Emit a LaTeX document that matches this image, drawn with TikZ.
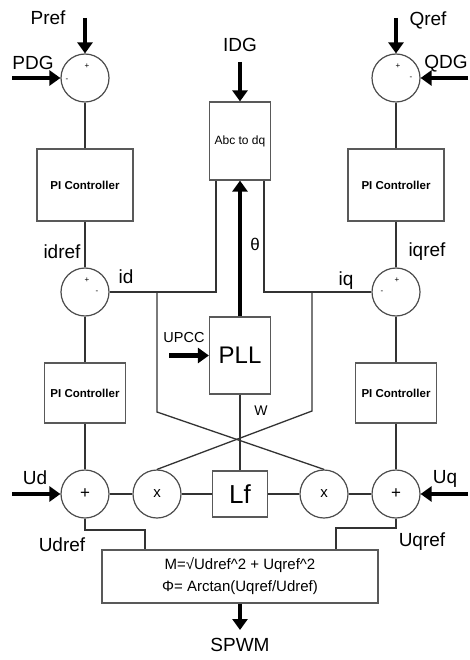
\documentclass[tikz,border=0pt]{standalone}
\usepackage{fontspec}
\setmainfont{Liberation Sans}
\usetikzlibrary{arrows.meta}
\begin{document}
\begin{tikzpicture}[x=1pt,y=-1pt,
 ln/.style={draw=black!80, line width=1.3pt},
 blk/.style={draw=black!65, line width=1.2pt, fill=white, inner sep=0pt},
 sumc/.style={circle, draw=black!70, line width=1.2pt, minimum size=48pt, inner sep=0pt, fill=white},
 big/.style={-{Triangle[length=11pt,width=15pt]}, line width=4.5pt, draw=black},
 lab/.style={font=\fontsize{19}{19}\selectfont, inner sep=0pt},
 sgn/.style={font=\fontsize{8}{8}\selectfont, inner sep=0pt},
 pic/.style={font=\bfseries\fontsize{11.5}{12}\selectfont}
]
\fill[white] (0,0) rectangle (470,660);
\useasboundingbox (0,0) rectangle (470,660);

% blocks
\node[sumc] (s1l) at (85,78) {};
\node[sumc] (s1r) at (396,78) {};
\node[blk, minimum width=96pt, minimum height=72pt, pic] (pi1l) at (85,185) {PI Controller};
\node[blk, minimum width=96pt, minimum height=72pt, pic] (pi1r) at (396,185) {PI Controller};
\node[sumc] (s2l) at (85,292) {};
\node[sumc] (s2r) at (396,292) {};
\node[blk, minimum width=81pt, minimum height=60pt, pic] (pi2l) at (85,393) {PI Controller};
\node[blk, minimum width=81pt, minimum height=60pt, pic] (pi2r) at (396,393) {PI Controller};
\node[sumc, font=\fontsize{17}{17}\selectfont] (s3l) at (85,494) {+};
\node[sumc, font=\fontsize{17}{17}\selectfont] (s3r) at (396,494) {+};
\node[sumc, font=\fontsize{15}{15}\selectfont] (xl) at (157,494) {x};
\node[sumc, font=\fontsize{15}{15}\selectfont] (xr) at (324,494) {x};
\node[blk, minimum width=55pt, minimum height=46pt, font=\fontsize{26}{26}\selectfont] (lf) at (240,494) {Lf};
\node[blk, minimum width=61pt, minimum height=78pt, font=\fontsize{12}{12}\selectfont] (abc) at (240,141) {Abc to dq};
\node[blk, minimum width=61pt, minimum height=77pt, font=\fontsize{24}{24}\selectfont] (pll) at (240,355.5) {PLL};
\node[blk, minimum width=276pt, minimum height=53pt, align=center, font=\fontsize{15}{22}\selectfont] (mb) at (240,576.5) {M=√Udref\textasciicircum2 + Uqref\textasciicircum2\\Φ= Arctan(Uqref/Udref)};

% signs
\node[sgn] (p1l) at (87,66) {+};
\node[sgn] (m1l) at (67,80) {-};
\node[sgn] (p1r) at (398,66) {+};
\node[sgn] (m1r) at (411,78) {-};
\node[sgn] (p2l) at (87,280) {+};
\node[sgn] (m2l) at (97,292) {-};
\node[sgn] (p2r) at (397,280) {+};
\node[sgn] (m2r) at (382,292) {-};

% labels
\node[lab] (tpref) at (48,18) {Pref};
\node[lab] (tpdg) at (33,63) {PDG};
\node[lab] (tidg) at (240,45) {IDG};
\node[lab] (tqref) at (428,20) {Qref};
\node[lab] (tqdg) at (446,64) {QDG};
\node[lab] (tidref) at (62,252) {idref};
\node[lab] (tiqref) at (427,252) {iqref};
\node[lab] (tid) at (126,277) {id};
\node[lab] (tiq) at (346,281) {iq};
\node[lab, font=\fontsize{17}{17}\selectfont] (tth) at (255,244) {θ};
\node[lab, font=\fontsize{14.5}{14.5}\selectfont] (tupcc) at (184,338) {UPCC};
\node[lab, font=\fontsize{14}{14}\selectfont] (tw) at (261,411) {W};
\node[lab] (tud) at (35,478) {Ud};
\node[lab] (tuq) at (445,479) {Uq};
\node[lab] (tudref) at (62,545) {Udref};
\node[lab] (tuqref) at (422,542) {Uqref};
\node[lab] (tspwm) at (240,645) {SPWM};

% input coordinates
\coordinate (prefin) at (85,18);
\coordinate (pdgin) at (12,78);
\coordinate (idgin) at (240,62);
\coordinate (qrefin) at (396,18);
\coordinate (qdgin) at (468,78);
\coordinate (upccin) at (169,355.5);
\coordinate (udin) at (12,494);
\coordinate (uqin) at (468,494);
\coordinate (spwmout) at (240,630);

% thick arrows
\draw[big] (prefin) -- (s1l.north);
\draw[big] (pdgin) -- (s1l.west);
\draw[big] (idgin) -- (abc.north);
\draw[big] (qrefin) -- (s1r.north);
\draw[big] (qdgin) -- (s1r.east);
\draw[big] (pll.north) -- (abc.south);
\draw[big] (upccin) -- (pll.west);
\draw[big] (udin) -- (s3l.west);
\draw[big] (uqin) -- (s3r.east);
\draw[big] (mb.south) -- (spwmout);

% thin connectors
\draw[ln] (s1l.south) -- (pi1l.north);
\draw[ln] (pi1l.south) -- (s2l.north);
\draw[ln] (s2l.south) -- (pi2l.north);
\draw[ln] (pi2l.south) -- (s3l.north);
\draw[ln] (s1r.south) -- (pi1r.north);
\draw[ln] (pi1r.south) -- (s2r.north);
\draw[ln] (s2r.south) -- (pi2r.north);
\draw[ln] (pi2r.south) -- (s3r.north);

\draw[ln] (s2l.east) -| ([xshift=-24pt]abc.south);
\draw[ln] (s2r.west) -| ([xshift=24pt]abc.south);

\coordinate (bl) at (157,292);
\coordinate (blk) at (157,412);
\coordinate (br) at (312,292);
\coordinate (brk) at (312,411);
\draw[ln] (bl) -- (blk) -- (xr.north);
\draw[ln] (br) -- (brk) -- (xl.north);
\draw[ln] (pll.south) -- (lf.north);

\draw[ln] (s3l.east) -- (xl.west);
\draw[ln] (xl.east) -- (lf.west);
\draw[ln] (lf.east) -- (xr.west);
\draw[ln] (xr.east) -- (s3r.west);

\coordinate (udk) at (145,530);
\coordinate (uqk) at (336,528);
\draw[ln] (s3l.south) |- (udk) -- (udk |- mb.north);
\draw[ln] (s3r.south) |- (uqk) -- (uqk |- mb.north);
\end{tikzpicture}
\end{document}
